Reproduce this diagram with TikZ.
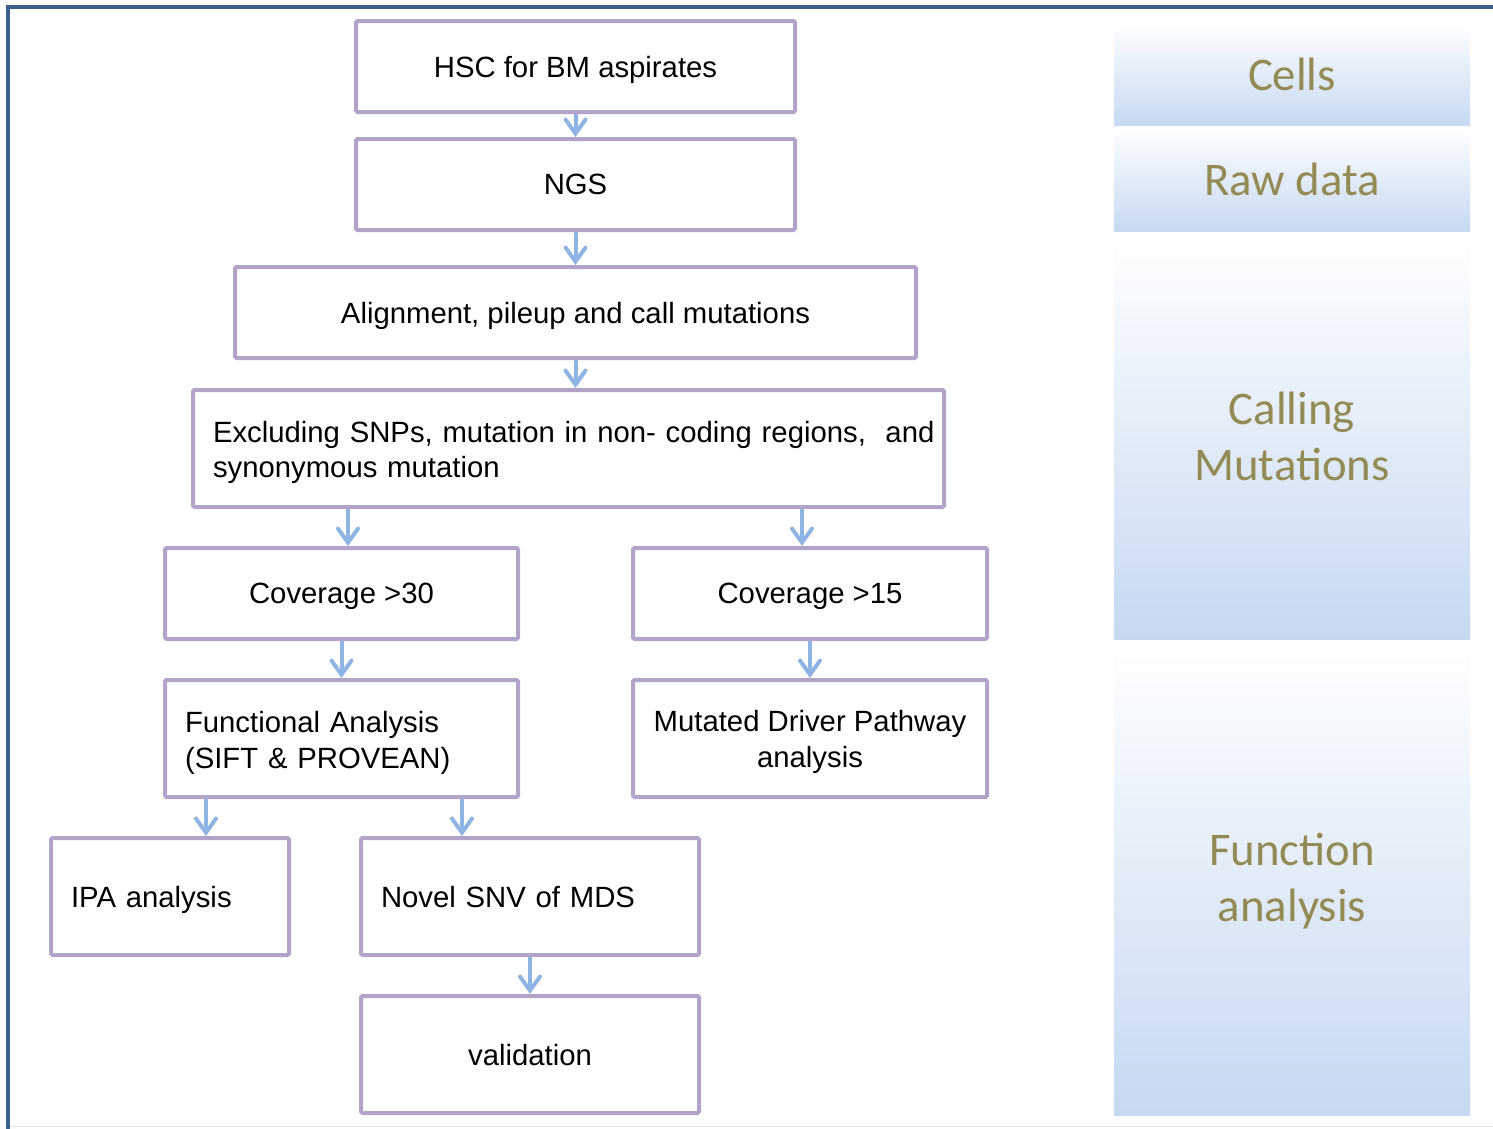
\documentclass[tikz,border=0pt]{standalone}
\usepackage{fontspec}
\setmainfont{Liberation Sans}
\newfontfamily\labelfont{Carlito}
\usetikzlibrary{arrows.meta}
\definecolor{framecol}{HTML}{3A5F8B}
\definecolor{boxcol}{HTML}{B4A3C8}
\definecolor{arrcol}{HTML}{8DB4E2}
\definecolor{panelcol}{HTML}{C6D9F1}
\definecolor{labelcol}{HTML}{948A54}
\tikzset{
  stepbox/.style={draw=boxcol, line width=4pt, rounded corners=1.5pt, fill=white,
    inner sep=0pt, align=center, text depth=0pt,
    font=\fontsize{29.3}{35.5}\selectfont},
  leftbox/.style={stepbox, align=left, inner xsep=20pt},
  % two-line left-aligned boxes keep their natural depth
  leftpara/.style={leftbox, text depth={}},
  arr/.style={arrcol, line width=4pt,
    -{Straight Barb[length=14pt, width=20pt, line width=4pt, line cap=round]}},
  panel/.style={inner sep=0pt, top color=white, bottom color=panelcol,
    text=labelcol, align=center, text depth=0pt,
    font=\labelfont\fontsize{46.8}{56}\selectfont},
}
% taller first line, to sit the paragraph a little lower in its box
\newcommand\firstlinestrut[1]{\rule{0pt}{#1}}
\begin{document}
\begin{tikzpicture}[x=1pt, y=-1pt]
\useasboundingbox (0,0) rectangle (1493,1128);

% page frame
\draw[framecol, line width=4pt] (8,1130) -- (8,7) -- (1495,7);
\draw[gray!20, line width=1.5pt] (10,1126.5) -- (1495,1126.5);

% stage panels
\node[panel, minimum width=356pt, minimum height=104pt] (pcells) at (1292,74) {Cells};
\node[panel, minimum width=356pt, minimum height=106pt] (praw) at (1292,179) {Raw data};
\node[panel, minimum width=356pt, minimum height=408pt] (pcall) at (1292,436) {Calling\\Mutations};
\node[panel, minimum width=356pt, minimum height=475pt] (pfunc) at (1292,877.5) {Function\\analysis};

% pipeline steps
\node[stepbox, minimum width=439pt, minimum height=91pt] (hsc) at (575.5,66.5) {HSC for BM aspirates};
\node[stepbox, minimum width=439pt, minimum height=91pt] (ngs) at (575.5,184.5) {NGS};
\node[stepbox, minimum width=681pt, minimum height=91pt] (aln) at (575.5,312.5) {Alignment, pileup and call mutations};
\node[leftpara, text width=711pt, minimum height=117pt,
      font=\fontsize{29.3}{35}\selectfont] (excl) at (568.5,448.5)
  {\firstlinestrut{29.5pt}\mbox{Excluding SNPs, mutation in non- coding regions,\ \ and}\\synonymous mutation};
\node[stepbox, minimum width=353pt, minimum height=91pt] (c30) at (341.5,593.5) {Coverage >30};
\node[stepbox, minimum width=354pt, minimum height=91pt] (c15) at (810,593.5) {Coverage >15};
\node[leftpara, text width=313pt, minimum height=117pt,
      font=\fontsize{29.3}{36}\selectfont] (func) at (341.5,738.5)
  {\firstlinestrut{30pt}Functional Analysis\\(SIFT \& PROVEAN)};
\node[stepbox, minimum width=354pt, minimum height=117pt,
      font=\fontsize{29.3}{36}\selectfont] (mdp) at (810,738.5)
  {Mutated Driver Pathway\\analysis};
\node[leftbox, text width=198pt, minimum height=117pt] (ipa) at (170,896.5) {IPA analysis};
\node[leftbox, text width=298pt, minimum height=117pt] (snv) at (530,896.5) {Novel SNV of MDS};
\node[stepbox, minimum width=338pt, minimum height=117pt] (val) at (530,1054.5) {validation};

% connectors
\draw[arr] (hsc.south) -- (ngs.north);
\draw[arr] (ngs.south) -- (aln.north);
\draw[arr] (aln.south) -- (excl.north -| aln.south);
\draw[arr] ([xshift=6.5pt]excl.south -| c30.north) -- ([xshift=6.5pt]c30.north);
\draw[arr] ([xshift=-8pt]excl.south -| c15.north) -- ([xshift=-8pt]c15.north);
\draw[arr] (c30.south) -- (func.north);
\draw[arr] (c15.south) -- (mdp.north);
\draw[arr] ([xshift=36pt]func.south -| ipa.north) -- ([xshift=36pt]ipa.north);
\draw[arr] ([xshift=-68pt]func.south -| snv.north) -- ([xshift=-68pt]snv.north);
\draw[arr] (snv.south) -- (val.north);
\end{tikzpicture}
\end{document}
